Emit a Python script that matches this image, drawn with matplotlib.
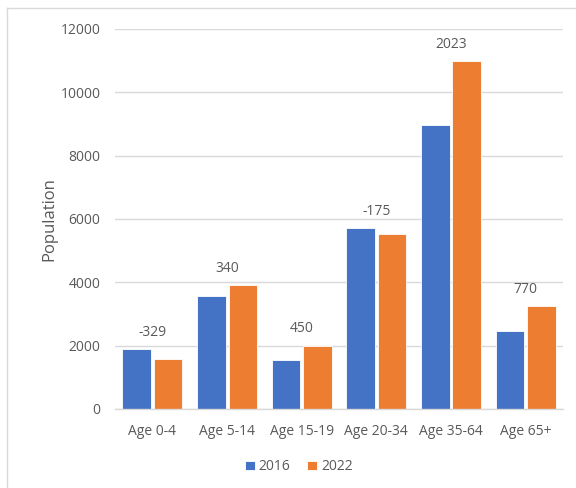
import numpy as np
import matplotlib.pyplot as plt
from matplotlib.lines import Line2D

# ------------------------------ Data ------------------------------

AGE_GROUPS = ["Age 0-4", "Age 5-14", "Age 15-19", "Age 20-34", "Age 35-64", "Age 65+"]
POP_2016 = [1900, 3580, 1555, 5700, 8970, 2470]
POP_2022 = [1571, 3920, 2005, 5525, 10993, 3240]
CHANGE = ["-329", "340", "450", "-175", "2023", "770"]

BLUE = "#4472C4"
ORANGE = "#ED7D31"
TEXT = "#595959"
GRID = "#D9D9D9"

plt.rcParams.update({
    "font.family": ["Open Sans", "DejaVu Sans"],
    "font.size": 10,
    "text.color": TEXT,
    "axes.labelcolor": TEXT,
    "xtick.color": TEXT,
    "ytick.color": TEXT,
})

# ------------------------------ Plot ------------------------------

fig = plt.figure(figsize=(5.76, 4.88), dpi=100)
ax = fig.add_axes([0.1997, 0.1619, 0.7777, 0.7787])

x = np.arange(len(AGE_GROUPS))
w, off = 0.38, 0.21
ax.bar(x - off, POP_2016, w, color=BLUE, edgecolor="white", linewidth=0.6, label="2016", zorder=2)
ax.bar(x + off, POP_2022, w, color=ORANGE, edgecolor="white", linewidth=0.6, label="2022", zorder=2)

# change between the two years above each pair
for xi, a, b, txt in zip(x, POP_2016, POP_2022, CHANGE):
    ax.annotate(txt, (xi, max(a, b)), xytext=(0, 6.5), textcoords="offset points",
                ha="center", va="bottom", fontsize=10, color=TEXT)

ax.set_xlim(-0.5, len(AGE_GROUPS) - 0.5)
ax.set_ylim(0, 12000)
ax.set_yticks(range(0, 12001, 2000))
ax.set_xticks(x)
ax.set_xticklabels(AGE_GROUPS)
ax.tick_params(axis="both", length=0)
ax.tick_params(axis="y", pad=10.5)
ax.tick_params(axis="x", pad=10.5)
ax.yaxis.grid(True, color=GRID, linewidth=1.0, zorder=0)
ax.set_axisbelow(True)
for side in ("top", "right", "left"):
    ax.spines[side].set_visible(False)
ax.spines["bottom"].set_color(GRID)
ax.spines["bottom"].set_linewidth(1.0)

ax.set_ylabel("Population", fontsize=12, labelpad=2)

ax.legend(loc="upper center", bbox_to_anchor=(0.41, -0.1), ncol=2, frameon=False,
          handlelength=0.7, handleheight=0.7, handletextpad=0.3, columnspacing=1.2,
          fontsize=10)

# chart area frame (top and left edges)
fig.add_artist(Line2D([7 / 576, 1.0], [1 - 8 / 488, 1 - 8 / 488], color=GRID, lw=1.0))
fig.add_artist(Line2D([7 / 576, 7 / 576], [0.0, 1 - 8 / 488], color=GRID, lw=1.0))

fig.savefig("out.png", dpi=100, facecolor="white")
